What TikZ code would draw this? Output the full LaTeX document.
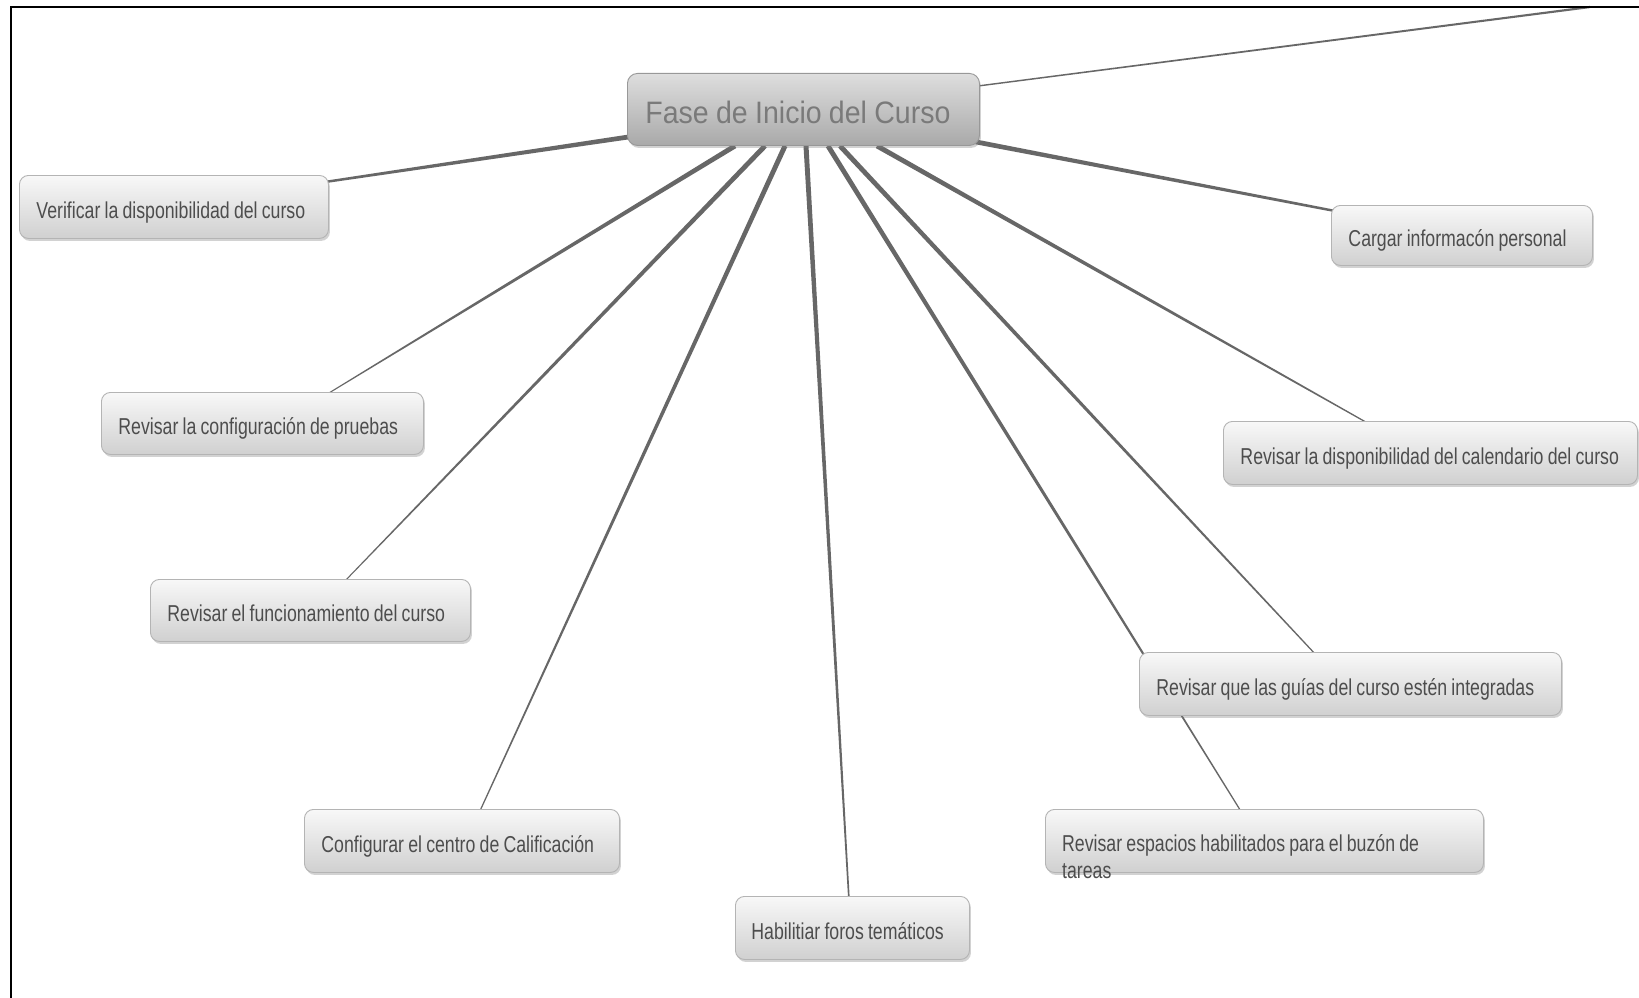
\documentclass[tikz,border=0pt]{standalone}
\usepackage{fontspec}
\setmainfont{Liberation Sans}
\newfontfamily\nodefont{Liberation Sans}[FakeStretch=0.77,WordSpace=0.85]
\newfontfamily\hubfont{Liberation Sans}[FakeStretch=0.92,WordSpace=0.92]
\usetikzlibrary{calc,shadows,backgrounds}
\definecolor{linkc}{HTML}{676767}
\definecolor{txtc}{HTML}{4D4D4D}
\definecolor{hubtxt}{HTML}{7A7A7A}
\definecolor{boxline}{HTML}{B4B4B4}
\definecolor{boxtop}{HTML}{F8F8F8}
\definecolor{boxbot}{HTML}{D0D0D0}
\definecolor{hubtop}{HTML}{DEDEDE}
\definecolor{hubbot}{HTML}{A9A9A9}
\newcommand{\taperlink}[4]{\fill[linkc] ($(#1)!#3!90:(#2)$) -- ($(#2)!#4!-90:(#1)$) -- ($(#2)!#4!90:(#1)$) -- ($(#1)!#3!-90:(#2)$) -- cycle;}
\newcommand{\ltxt}[2]{\makebox[#1][l]{#2}}
\tikzset{
  childbox/.style={draw=boxline, line width=0.9pt, rounded corners=9pt,
    top color=boxtop, bottom color=boxbot,
    drop shadow={shadow xshift=1.5pt, shadow yshift=-2.5pt, opacity=0.35},
    anchor=north west, inner ysep=0pt, inner xsep=17pt,
    text height=24pt, text depth=1pt,
    font=\nodefont\fontsize{23}{27}\selectfont, text=txtc},
  hubbox/.style={draw=hubbot!90!black, line width=0.9pt, rounded corners=10pt,
    top color=hubtop, bottom color=hubbot,
    drop shadow={shadow xshift=1.5pt, shadow yshift=-2.5pt, opacity=0.35},
    anchor=north west, inner ysep=0pt, inner xsep=18pt,
    text height=30pt, text depth=2pt,
    font=\hubfont\fontsize{31}{36}\selectfont, text=hubtxt},
  txtonly/.style={inner sep=0pt, font=\nodefont\fontsize{23}{27}\selectfont, text=txtc, align=left},
}
\begin{document}
\begin{tikzpicture}[x=1pt,y=-1pt]
\useasboundingbox (0,0) rectangle (1639,998);
\begin{pgfonlayer}{background}
\fill[white] (0,0) rectangle (1639,998);
\end{pgfonlayer}
% frame
\draw[line width=2pt, black] (11,998) -- (11,7) -- (1639,7);

% nodes
\node[hubbox, minimum height=72pt] (hub) at (627,73) {\ltxt{316pt}{Fase de Inicio del Curso}};
\node[childbox, minimum height=63pt] (verif) at (19,175) {\ltxt{275pt}{Verificar la disponibilidad del curso}};
\node[childbox, minimum height=62pt] (config) at (101,392) {\ltxt{288pt}{Revisar la configuración de pruebas}};
\node[childbox, minimum height=62pt] (func) at (150,579) {\ltxt{286pt}{Revisar el funcionamiento del curso}};
\node[childbox, minimum height=63pt] (calif) at (304,809) {\ltxt{281pt}{Configurar el centro de Calificación}};
\node[childbox, minimum height=63pt, inner xsep=16pt] (foros) at (735,896) {\ltxt{202pt}{Habilitiar foros temáticos}};
\node[childbox, minimum height=63pt, minimum width=438pt] (buzon) at (1045,809) {};
\node[txtonly, anchor=north west] (buzontxt) at (1062,834) {Revisar espacios habilitados para el buzón de\\tareas};
\node[childbox, minimum height=63pt] (guias) at (1139,652) {\ltxt{388pt}{Revisar que las guías del curso estén integradas}};
\node[childbox, minimum height=63pt] (calend) at (1223,421) {\ltxt{380pt}{Revisar la disponibilidad del calendario del curso}};
\node[childbox, minimum height=60pt] (cargar) at (1331,205) {\ltxt{227pt}{Cargar informacón personal}};

% connector end points
\coordinate (sVerif) at ($(hub.south west)+(2,-9)$);
\coordinate (eVerif) at ($(verif.north east)+(-4,7)$);
\coordinate (sConfig) at ($(hub.south west)+(108,0)$);
\coordinate (eConfig) at ($(config.north west)+(223,4)$);
\coordinate (sFunc) at ($(hub.south west)+(138,0)$);
\coordinate (eFunc) at ($(func.north west)+(193,4)$);
\coordinate (sCalif) at ($(hub.south west)+(158,0)$);
\coordinate (eCalif) at ($(calif.north west)+(175,4)$);
\coordinate (sForos) at ($(hub.south west)+(179,0)$);
\coordinate (eForos) at ($(foros.north west)+(114,4)$);
\coordinate (sBuzon) at ($(hub.south west)+(201,0)$);
\coordinate (eBuzon) at ($(buzon.north west)+(197,4)$);
\coordinate (sGuias) at ($(hub.south west)+(213,0)$);
\coordinate (eGuias) at ($(guias.north west)+(178,4)$);
\coordinate (sCalend) at ($(hub.south west)+(250,0)$);
\coordinate (eCalend) at ($(calend.north west)+(148,4)$);
\coordinate (sCargar) at ($(hub.south east)+(-4,-4)$);
\coordinate (eCargar) at ($(cargar.north west)+(4,6)$);
\coordinate (sOff) at ($(hub.north east)+(-2,13)$);
\coordinate (eOff) at (1590,7);

\begin{pgfonlayer}{background}
\taperlink{sVerif}{eVerif}{2.4pt}{1.2pt}
\taperlink{sConfig}{eConfig}{2.5pt}{0.5pt}
\taperlink{sFunc}{eFunc}{2.5pt}{0.5pt}
\taperlink{sCalif}{eCalif}{2.5pt}{0.6pt}
\taperlink{sForos}{eForos}{2.5pt}{0.8pt}
\taperlink{sBuzon}{eBuzon}{2.5pt}{0.6pt}
\taperlink{sGuias}{eGuias}{2.5pt}{0.6pt}
\taperlink{sCalend}{eCalend}{2.5pt}{0.6pt}
\taperlink{sCargar}{eCargar}{2.4pt}{1.2pt}
\taperlink{sOff}{eOff}{0.7pt}{1.1pt}
\end{pgfonlayer}
\end{tikzpicture}
\end{document}
